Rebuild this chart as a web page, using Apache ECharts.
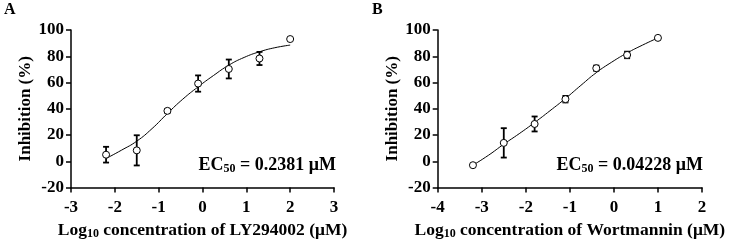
<!DOCTYPE html>
<html>
<head>
<meta charset="utf-8">
<script src="https://cdn.jsdelivr.net/npm/echarts@6/dist/echarts.min.js"></script>
<style>
  html, body { margin: 0; padding: 0; background: #fff; }
  #chart { width: 732px; height: 240px; }
</style>
</head>
<body>
<div id="chart"></div>
<script>
// panel A: LY294002
const doseA = [-2.2, -1.5, -0.8, -0.1, 0.6, 1.3, 2.0]
const inhibA = [5, 8.3, 38.4, 59.2, 70.3, 78.3, 93.1]
const errA = [6, 11.5, 1.5, 6.2, 7.2, 5, 0]
const curveXA = [-2.2, -1.85, -1.5, -1.15, -0.8, -0.45, -0.1, 0.25, 0.6, 0.95, 1.3, 1.65, 2.0]
const curveYA = [2.1, 8.4, 15.3, 24.9, 36.4, 47.3, 56.7, 65.3, 73.2, 79.1, 83.4, 86.5, 88.5]

// panel B: Wortmannin
const doseB = [-3.2, -2.5, -1.8, -1.1, -0.4, 0.3, 1.0]
const inhibB = [-3, 14, 28.4, 47.3, 70.9, 81, 94]
const errB = [0, 11.2, 5.7, 2.5, 2, 2.5, 0]
const curveXB = [-3.2, -2.85, -2.5, -2.15, -1.8, -1.45, -1.1, -0.75, -0.4, -0.05, 0.3, 0.65, 1.0]
const curveYB = [-3, 4.5, 13, 21, 29.5, 38.5, 47.8, 57.8, 67.5, 75.5, 82.5, 88.5, 94]

const font = '"Liberation Serif", "Times New Roman", serif'

const chart = echarts.init(document.getElementById('chart'))

const axisLine = { lineStyle: { color: '#000', width: 1.5 } }
const axisTick = { length: 5, lineStyle: { color: '#000', width: 1.5 } }
const tickFont = { color: '#000', fontFamily: font, fontWeight: 'bold', fontSize: 17 }
const richMain = { fontFamily: font, fontWeight: 'bold', fontSize: 17.5, color: '#000', verticalAlign: 'middle' }
const richSub = { fontFamily: font, fontWeight: 'bold', fontSize: 12, color: '#000', verticalAlign: 'bottom', padding: [7, 0, 0, 0] }

const makeX = (idx, min, max, drug) => ({
  type: 'value', gridIndex: idx, min: min, max: max, interval: 1,
  axisLine: { onZero: false, ...axisLine }, axisTick: axisTick, splitLine: { show: false },
  axisLabel: { ...tickFont, margin: 12 },
  name: '{a|Log}{s|10}{a| concentration of ' + drug + ' (μM)}',
  nameLocation: 'middle', nameGap: 29,
  nameTextStyle: { rich: { a: richMain, s: richSub } }
})

const makeY = (idx) => ({
  type: 'value', gridIndex: idx, min: -20, max: 100, interval: 20,
  axisLine: { show: true, onZero: false, ...axisLine }, axisTick: { show: true, ...axisTick },
  splitLine: { show: false },
  axisLabel: { ...tickFont, margin: 7 },
  name: 'Inhibition (%)', nameLocation: 'middle', nameGap: 37,
  nameTextStyle: { color: '#000', fontFamily: font, fontWeight: 'bold', fontSize: 17 }
})

const errorBars = (idx, xs, ys, es) => ({
  type: 'custom', xAxisIndex: idx, yAxisIndex: idx, z: 3,
  data: xs.map((x, i) => [x, ys[i], es[i]]),
  renderItem: (params, api) => {
    const e = api.value(2)
    if (!e) return null
    const x = api.value(0), y = api.value(1)
    const top = api.coord([x, y + e])
    const bot = api.coord([x, y - e])
    const w = 3
    const style = { stroke: '#000', lineWidth: 1.8 }
    return {
      type: 'group',
      children: [
        { type: 'line', shape: { x1: top[0], y1: top[1], x2: bot[0], y2: bot[1] }, style: style },
        { type: 'line', shape: { x1: top[0] - w, y1: top[1], x2: top[0] + w, y2: top[1] }, style: style },
        { type: 'line', shape: { x1: bot[0] - w, y1: bot[1], x2: bot[0] + w, y2: bot[1] }, style: style }
      ]
    }
  }
})

const points = (idx, xs, ys) => ({
  type: 'scatter', xAxisIndex: idx, yAxisIndex: idx, z: 5,
  symbol: 'circle', symbolSize: 7,
  itemStyle: { color: '#fff', borderColor: '#000', borderWidth: 1, opacity: 1 },
  data: xs.map((x, i) => [x, ys[i]])
})

const curve = (idx, xs, ys) => ({
  type: 'line', xAxisIndex: idx, yAxisIndex: idx, z: 2,
  smooth: true, showSymbol: false,
  lineStyle: { color: '#000', width: 1 },
  data: xs.map((x, i) => [x, ys[i]])
})

const ecText = (right, value) => ({
  type: 'text', right: right, top: 156,
  style: {
    text: '{a|EC}{s|50}{a| = ' + value + ' μM}',
    rich: {
      a: { ...richMain, fill: '#000', fontSize: 18 },
      s: { ...richSub, fill: '#000' }
    }
  }
})

chart.setOption({
  animation: false,
  grid: [
    { left: 71, top: 30, width: 263, height: 157.5, outerBoundsMode: 'none' },
    { left: 437.7, top: 30, width: 264.3, height: 157.5, outerBoundsMode: 'none' }
  ],
  xAxis: [makeX(0, -3, 3, 'LY294002'), makeX(1, -4, 2, 'Wortmannin')],
  yAxis: [makeY(0), makeY(1)],
  graphic: [
    { type: 'text', left: 4, top: 2, style: { text: 'A', font: 'bold 16px ' + font, fill: '#000' } },
    { type: 'text', left: 372, top: 2, style: { text: 'B', font: 'bold 16px ' + font, fill: '#000' } },
    ecText(732 - 336, '0.2381'),
    ecText(732 - 703, '0.04228')
  ],
  series: [
    curve(0, curveXA, curveYA),
    errorBars(0, doseA, inhibA, errA),
    points(0, doseA, inhibA),
    curve(1, curveXB, curveYB),
    errorBars(1, doseB, inhibB, errB),
    points(1, doseB, inhibB)
  ]
})
</script>
</body>
</html>
